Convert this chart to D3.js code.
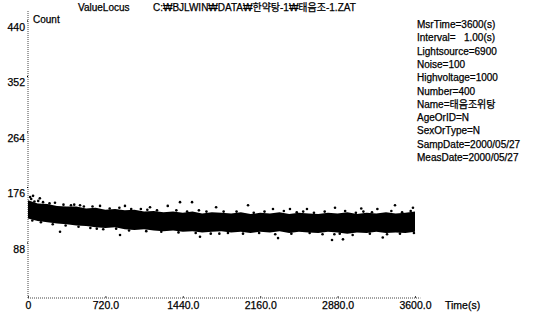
<!DOCTYPE html>
<html>
<head>
<meta charset="utf-8">
<script src="https://cdn.jsdelivr.net/npm/d3@7"></script>
<style>
  body { margin: 0; background: #fff; }
  svg text { font-family: "Liberation Sans", "Noto Sans CJK KR", sans-serif; fill: #000; stroke: #000; stroke-width: 0.25px; white-space: pre; }
</style>
</head>
<body>
<svg id="chart" width="539" height="320"></svg>
<script>
// dense band of the scatter cloud, every 90 s
const bandTimes = [0, 90, 180, 270, 360, 450, 540, 630, 720, 810, 900, 990, 1080, 1170, 1260, 1350,
  1440, 1530, 1620, 1710, 1800, 1890, 1980, 2070, 2160, 2250, 2340, 2430, 2520, 2610, 2700, 2790,
  2880, 2970, 3060, 3150, 3240, 3330, 3420, 3510, 3600];
const bandHigh = [155, 150, 149, 146, 145, 145, 142, 143, 140, 141, 139, 140, 137, 138, 136, 137,
  135, 137, 134, 136, 135, 134, 136, 133, 135, 134, 136, 133, 135, 134, 133, 135,
  134, 136, 133, 135, 134, 136, 134, 135, 137];
const bandLow = [126, 122, 120, 118, 117, 115, 114, 112, 111, 112, 109, 108, 109, 107, 106, 107,
  105, 106, 104, 105, 106, 104, 105, 103, 105, 104, 106, 103, 105, 104, 103, 105,
  104, 102, 104, 103, 105, 103, 104, 103, 105];

// loose points around the edges of the band [time, count]
const edgeDots = [[30, 157], [60, 153], [140, 152], [200, 150], [330, 148], [400, 147], [520, 145],
  [600, 145], [760, 142], [850, 143], [960, 141], [1050, 141], [1200, 139], [1380, 139],
  [1480, 137], [1660, 137], [1820, 137], [1940, 137], [2100, 135], [2200, 137], [2380, 138],
  [2500, 136], [2660, 135], [2760, 137], [2950, 138], [3050, 135], [3200, 136], [3380, 138],
  [3480, 136], [3560, 138], [95, 154], [430, 148], [1110, 140], [1590, 139], [2560, 137],
  [3120, 137],
  [40, 123], [120, 120], [230, 117], [350, 115], [470, 113], [580, 111], [700, 109], [820, 110],
  [940, 107], [1100, 106], [1240, 105], [1400, 104], [1560, 103], [1700, 102], [1860, 103],
  [2000, 102], [2150, 103], [2300, 101], [2450, 102], [2620, 103], [2740, 101], [2900, 102],
  [3020, 100], [3180, 102], [3340, 101], [3460, 102], [3590, 103], [640, 110], [1780, 102],
  [2850, 101]];

// scattered points well outside the band [time, count]
const outliers = [[47, 162], [20, 160], [110, 158], [251, 151], [484, 147], [670, 146], [902, 146],
  [1135, 144], [1414, 152], [1526, 152], [1300, 146], [1750, 144], [2047, 147], [2279, 141],
  [2437, 141], [2595, 141], [2856, 143], [3100, 142], [3414, 147], [3581, 143], [3250, 141],
  [298, 105], [856, 100], [1600, 97], [2326, 95], [2828, 92], [2930, 93], [3300, 96]];

const xTicks = [0, 720, 1440, 2160, 2880, 3600];
const yTicks = [88, 176, 264, 352, 440];

const titleText = "ValueLocus";
const fileText = "C:₩BJLWIN₩DATA₩한약탕-1₩태음조-1.ZAT";
const infoLines = ["MsrTime=3600(s)", "Interval=   1.00(s)", "Lightsource=6900", "Noise=100",
  "Highvoltage=1000", "Number=400", "Name=태음조위탕", "AgeOrID=N", "SexOrType=N",
  "SampDate=2000/05/27", "MeasDate=2000/05/27"];

const svg = d3.select("#chart");
const x = d3.scaleLinear().domain([0, 3600]).range([28, 415]);
const y = d3.scaleLinear().domain([0, 440]).range([298, 20.5]);

// axis lines (dotted like the original)
svg.append("line")
  .attr("x1", x(0)).attr("x2", x(0))
  .attr("y1", y(0)).attr("y2", y(455))
  .attr("stroke", "#444").attr("stroke-dasharray", "1,1");
svg.append("line")
  .attr("x1", x(0)).attr("x2", x(3650))
  .attr("y1", y(0)).attr("y2", y(0))
  .attr("stroke", "#444").attr("stroke-dasharray", "1,1");

const yAxis = svg.append("g")
  .attr("transform", `translate(${x(0)},0)`)
  .call(d3.axisLeft(y).tickValues(yTicks).tickSize(1).tickPadding(2).tickFormat(d3.format("d")));
yAxis.select(".domain").remove();
yAxis.selectAll("text").attr("dy", "0.95em").style("font-size", "10.5px");

const xAxis = svg.append("g")
  .attr("transform", `translate(0,${y(0)})`)
  .call(d3.axisBottom(x).tickValues(xTicks).tickSizeInner(-2).tickSizeOuter(0).tickPadding(4)
    .tickFormat(d => d === 0 ? "0" : d3.format(".1f")(d)));
xAxis.select(".domain").remove();
xAxis.selectAll("text").style("font-size", "10.5px");
xAxis.selectAll("line").attr("stroke", "#444");

// the scatter cloud
const area = d3.area()
  .x((d, i) => x(bandTimes[i]))
  .y0((d, i) => y(bandLow[i]))
  .y1((d, i) => y(bandHigh[i]));
svg.append("path")
  .datum(bandTimes)
  .attr("d", area)
  .attr("fill", "#000");

svg.append("g").selectAll("circle")
  .data(edgeDots.concat(outliers))
  .join("circle")
  .attr("cx", d => x(d[0]))
  .attr("cy", d => y(d[1]))
  .attr("r", 1.3)
  .attr("fill", "#000");

// texts
svg.append("text").attr("x", 33).attr("y", 23).style("font-size", "10px").text("Count");
svg.append("text").attr("x", 445).attr("y", 309).style("font-size", "10.5px").text("Time(s)");
svg.append("text").attr("x", 78).attr("y", 11).style("font-size", "10px").text(titleText);
svg.append("text").attr("x", 153).attr("y", 11).style("font-size", "10px").text(fileText);

svg.append("g").selectAll("text")
  .data(infoLines)
  .join("text")
  .attr("x", 417)
  .attr("y", (d, i) => 28 + i * 13.3)
  .style("font-size", "10px")
  .text(d => d);
</script>
</body>
</html>
